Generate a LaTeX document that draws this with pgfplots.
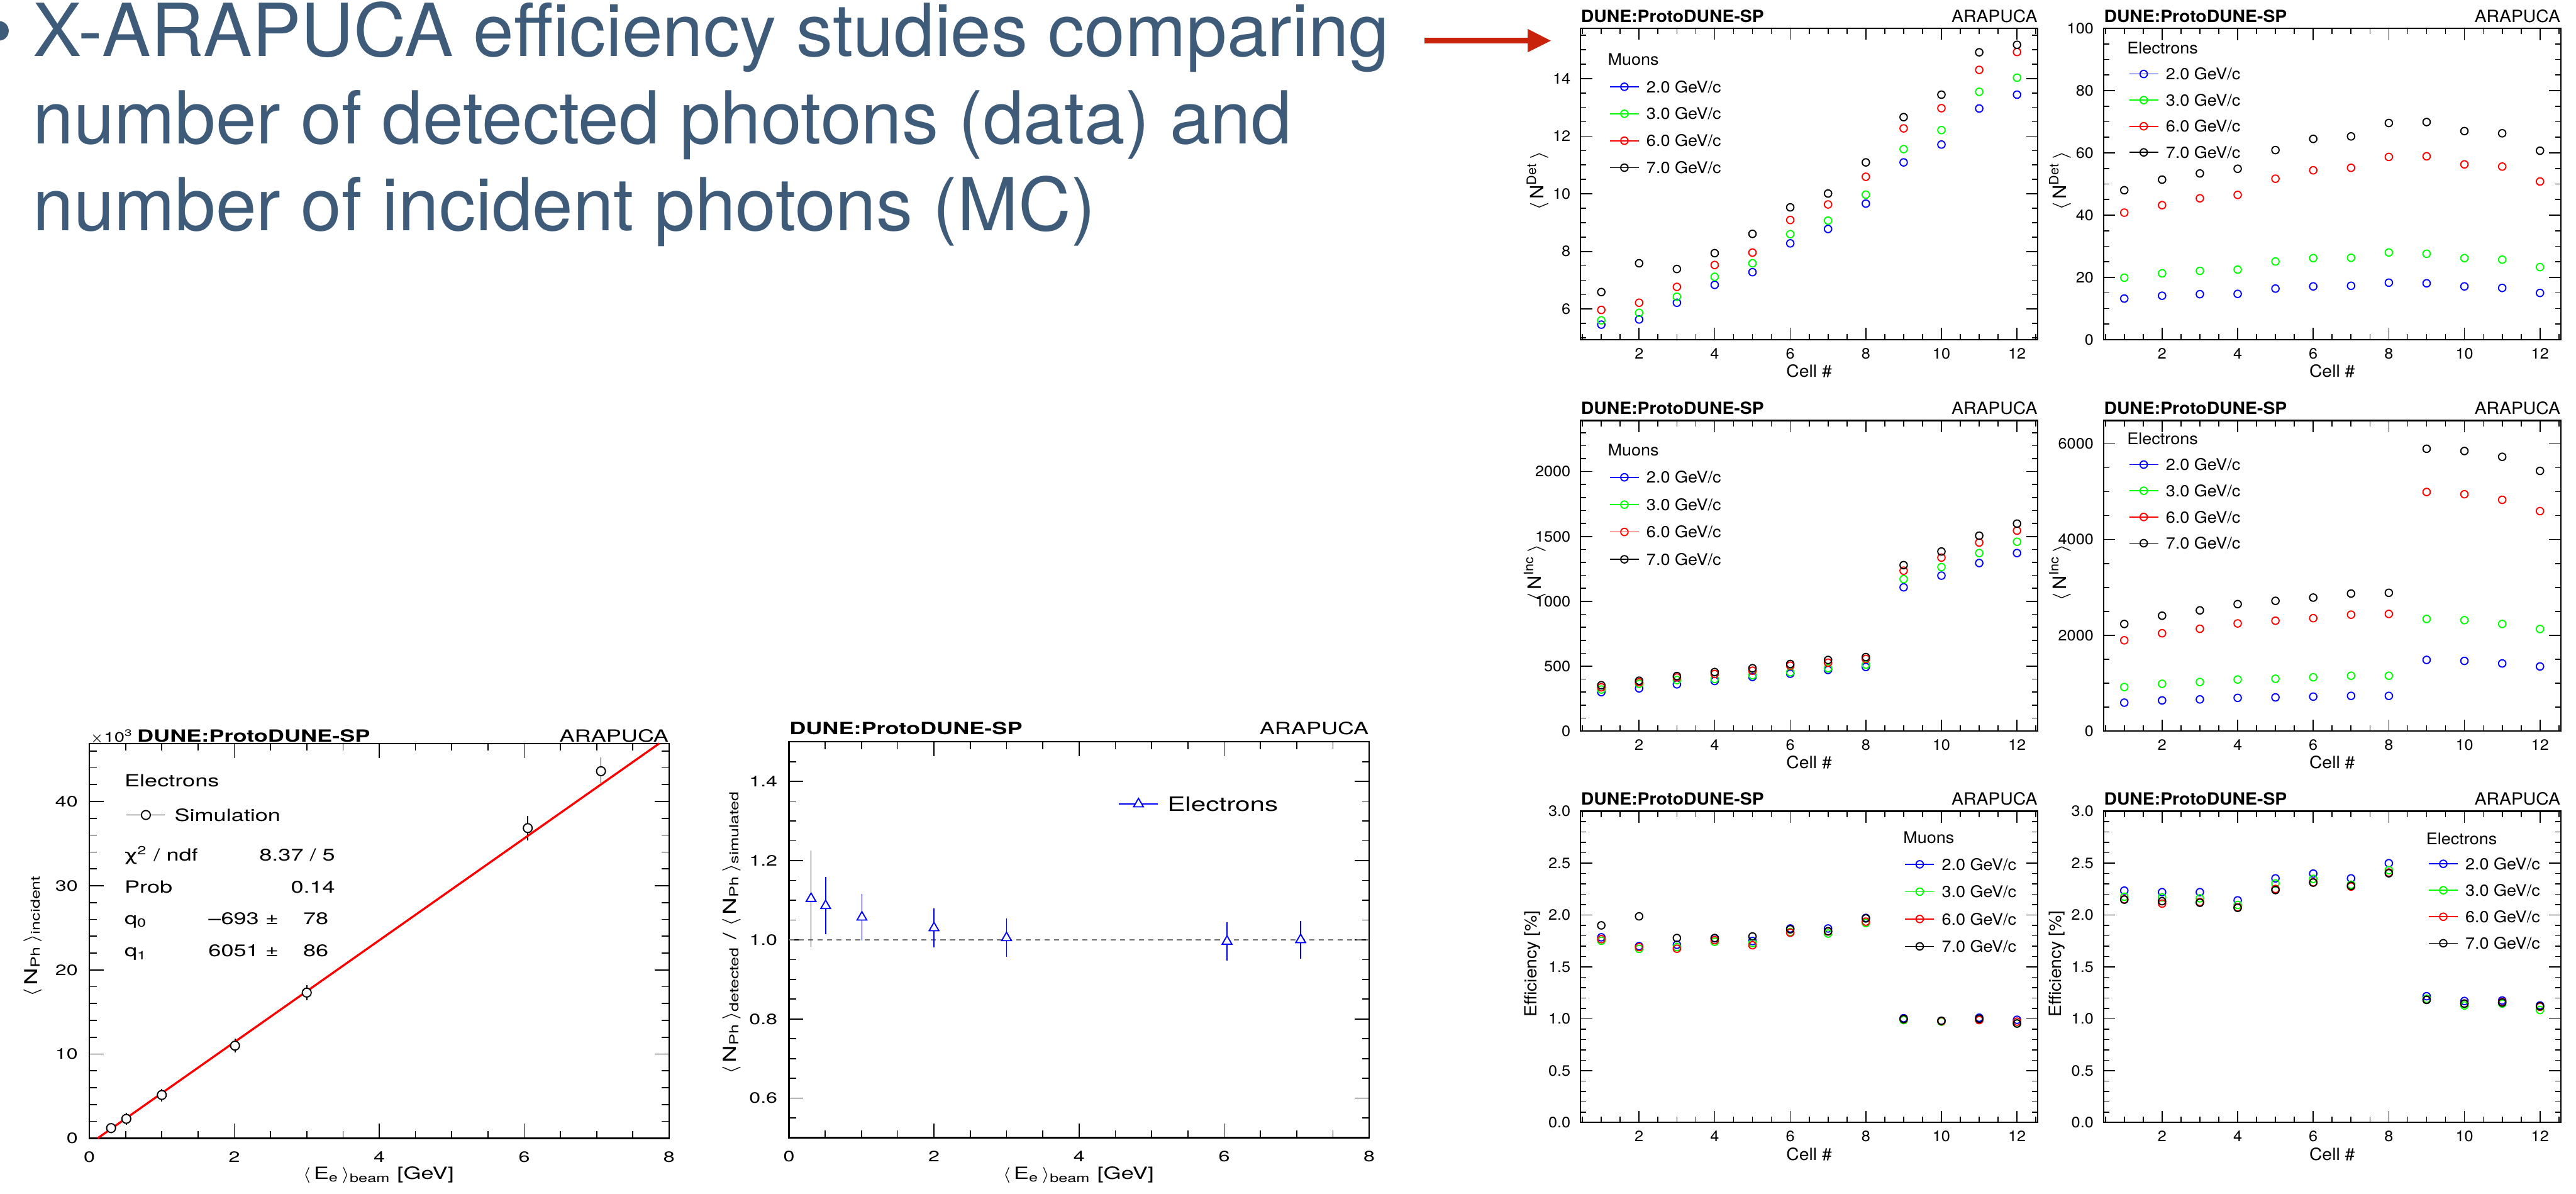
\documentclass[border=0pt]{standalone}
\usepackage{pgfplots}
\usepackage{pgfplotstable}
\pgfplotsset{compat=1.18}
\usepackage{fontspec}
\setmainfont{TeX Gyre Heros}
\newfontfamily\fR[FakeStretch=1.06]{TeX Gyre Heros}
\newfontfamily\fB[FakeStretch=1.35]{TeX Gyre Heros}
\newfontfamily\fG[FakeStretch=1.35]{DejaVu Sans}
\newcommand\RT{\fR\fontsize{6.4bp}{7bp}\selectfont}
\newcommand\RY{\fR\fontsize{7.0bp}{8bp}\selectfont}
\newcommand\RL{\fR\fontsize{6.1bp}{7bp}\selectfont}
\newcommand\RK{\fR\fontsize{5.7bp}{6bp}\selectfont}
\newcommand\BT{\fB\fontsize{6.4bp}{7bp}\selectfont}
\newcommand\BY{\fB\fontsize{6.8bp}{8bp}\selectfont}
\newcommand\BK{\fB\fontsize{5.7bp}{6bp}\selectfont}
\newcommand\BL{\fB\fontsize{7.5bp}{8bp}\selectfont}
\definecolor{slide}{RGB}{62,92,122}
\definecolor{arrowred}{RGB}{200,35,10}
\definecolor{rblue}{RGB}{0,0,255}
\definecolor{rgreen}{RGB}{0,255,0}
\definecolor{rred}{RGB}{255,0,0}
\definecolor{dashgray}{RGB}{110,110,110}

% Muons, detected photons per cell
\pgfplotstableread{
cell b g r k
1 5.46 5.61 5.97 6.59
2 5.64 5.87 6.22 7.59
3 6.22 6.43 6.77 7.39
4 6.84 7.12 7.53 7.94
5 7.28 7.59 7.96 8.61
6 8.28 8.60 9.09 9.53
7 8.78 9.07 9.63 10.01
8 9.66 9.97 10.59 11.09
9 11.09 11.55 12.27 12.66
10 11.71 12.21 12.97 13.44
11 12.96 13.54 14.30 14.91
12 13.44 14.03 14.92 15.17
}\muDet
% Electrons, detected photons per cell
\pgfplotstableread{
cell b g r k
1 13.2 19.9 40.8 48.0
2 14.1 21.3 43.2 51.4
3 14.6 22.1 45.4 53.4
4 14.7 22.5 46.5 54.9
5 16.4 25.1 51.7 60.9
6 17.1 26.2 54.4 64.5
7 17.3 26.3 55.2 65.3
8 18.3 28.0 58.7 69.6
9 18.1 27.6 58.9 69.9
10 17.1 26.2 56.3 67.0
11 16.6 25.7 55.6 66.3
12 15.0 23.3 50.8 60.7
}\elDet
% Muons, incident photons per cell
\pgfplotstableread{
cell b g r k
1 300 320 337 353
2 329 364 376 388
3 360 393 413 424
4 386 401 440 455
5 417 430 465 484
6 442 453 504 517
7 471 484 527 548
8 494 512 556 570
9 1108 1171 1236 1279
10 1198 1264 1337 1384
11 1295 1372 1453 1506
12 1372 1459 1545 1599
}\muInc
% Electrons, incident photons per cell
\pgfplotstableread{
cell b g r k
1 593 919 1895 2236
2 640 987 2042 2409
3 661 1024 2136 2520
4 693 1076 2247 2651
5 703 1092 2304 2719
6 719 1123 2357 2787
7 735 1155 2430 2871
8 735 1155 2446 2887
9 1486 2341 4992 5895
10 1465 2315 4945 5848
11 1412 2236 4829 5727
12 1349 2131 4593 5433
}\elInc
% Muons, efficiency per cell
\pgfplotstableread{
cell b g r k
1 1.785 1.752 1.767 1.900
2 1.700 1.673 1.690 1.987
3 1.713 1.690 1.675 1.778
4 1.775 1.742 1.757 1.778
5 1.749 1.729 1.708 1.793
6 1.870 1.836 1.829 1.862
7 1.870 1.821 1.841 1.844
8 1.972 1.923 1.936 1.967
9 1.005 0.987 0.997 0.997
10 0.980 0.972 0.977 0.980
11 1.010 0.995 0.987 1.000
12 0.990 0.954 0.972 0.954
}\muEff
% Electrons, efficiency per cell
\pgfplotstableread{
cell b g r k
1 2.235 2.176 2.151 2.148
2 2.220 2.169 2.110 2.133
3 2.220 2.161 2.125 2.118
4 2.141 2.097 2.074 2.069
5 2.353 2.304 2.251 2.240
6 2.399 2.348 2.315 2.312
7 2.353 2.292 2.274 2.281
8 2.499 2.432 2.409 2.402
9 1.217 1.192 1.182 1.182
10 1.171 1.128 1.146 1.146
11 1.176 1.146 1.161 1.156
12 1.128 1.084 1.115 1.120
}\elEff
% Simulation: incident photons (x10^3) vs beam energy
\pgfplotstableread{
x y ey
0.30 1.21 0.15
0.51 2.31 0.20
1.00 5.14 0.25
2.01 11.00 0.30
3.00 17.30 0.40
6.05 36.84 0.97
7.06 43.60 1.15
}\simInc
% Ratio detected / simulated
\pgfplotstableread{
x y ey
0.305 1.104 0.110
0.506 1.086 0.061
1.006 1.057 0.048
2.000 1.030 0.038
3.000 1.005 0.037
6.040 0.996 0.037
7.055 1.000 0.037
}\ratio

\pgfplotsset{
  legimg/.style={legend image code/.code={\draw[mark repeat=2,mark phase=2,##1,sharp plot] plot coordinates {(0bp,0bp) (#1/2,0bp) (#1,0bp)};}},
  rootbase/.style={scale only axis, clip=false,
    axis line style={line width=0.55bp},
    tick style={black, line width=0.4bp},
    tick align=inside, scaled ticks=false,
    /pgf/number format/assume math mode=true,
    /pgf/number format/1000 sep={},
    legend cell align=left},
  rpanel/.style={rootbase, width=174bp,
    xmin=0.45, xmax=12.55, xtick={2,4,...,12}, minor xtick={0.5,1,...,12.5},
    major tick length=4.4bp, minor tick length=2.2bp,
    ticklabel style={font=\RK, inner sep=0pt},
    xticklabel style={anchor=north, yshift=-3.1bp},
    yticklabel style={anchor=east, xshift=-3.6bp},
    xlabel={Cell \#},
    xlabel style={at={(axis description cs:0.5,-0.101)}, anchor=center, inner sep=0pt, font=\RT},
    ylabel style={anchor=center, inner sep=0pt, font=\RT},
    legend style={draw=none, fill=none, inner sep=0pt, outer sep=0pt, anchor=north west,
      nodes={inner sep=0pt, text height=4.4bp, text depth=0pt, font=\RL}, column sep=2.7bp},
    legimg=11bp},
  bpanel/.style={rootbase, xmin=0, xmax=8, xtick={0,2,...,8}, minor xtick={0.5,1,...,7.5},
    major tick length=5.5bp, minor tick length=2.75bp,
    ticklabel style={font=\BK, inner sep=0pt},
    xticklabel style={anchor=north, yshift=-4.8bp},
    yticklabel style={anchor=east, xshift=-4.2bp},
    xlabel={$\langle$\,E\textsubscript{e}\,$\rangle$\textsubscript{beam} [GeV]},
    xlabel style={anchor=center, inner sep=0pt, font=\BT},
    ylabel style={anchor=center, inner sep=0pt, font=\BY},
    legend style={draw=none, fill=none, inner sep=0pt, outer sep=0pt, anchor=north west}},
  ser/.style={only marks, mark=o, mark size=1.4bp, mark options={line width=0.45bp}, #1},
}
\newcommand\rtitles{%
  \node[anchor=base west, inner sep=0pt, font=\RT\bfseries, yshift=2.4bp] at (axis description cs:0,1) {DUNE:ProtoDUNE-SP};
  \node[anchor=base east, inner sep=0pt, font=\RT, yshift=2.4bp] at (axis description cs:1,1) {ARAPUCA};}
\newcommand\fourseries[1]{%
  \addplot[ser=rblue] table[x=cell,y=b] {#1}; \addlegendentry{2.0 GeV/c}
  \addplot[ser=rgreen] table[x=cell,y=g] {#1}; \addlegendentry{3.0 GeV/c}
  \addplot[ser=rred] table[x=cell,y=r] {#1}; \addlegendentry{6.0 GeV/c}
  \addplot[ser=black] table[x=cell,y=k] {#1}; \addlegendentry{7.0 GeV/c}}

\begin{document}
\begin{tikzpicture}
\path[use as bounding box] (0,0) rectangle (980.2bp,454.2bp);

% slide text
\fill[slide] (-0.4bp,442.46bp) circle (3.73bp);
\begin{scope}[every node/.style={anchor=base west, inner sep=0pt, text=slide, font=\fontsize{27.8bp}{33bp}\selectfont}]
\node at (12.4bp,432.8bp) {X-ARAPUCA efficiency studies comparing};
\node at (12.4bp,399.6bp) {number of detected photons (data) and};
\node at (12.4bp,366.6bp) {number of incident photons (MC)};
\end{scope}
% arrow
\fill[arrowred] (542bp,437.7bp) rectangle (581.6bp,439.9bp);
\fill[arrowred] (581.3bp,443.2bp) -- (590.1bp,438.7bp) -- (581.3bp,434.3bp) -- cycle;

% ---------- R1: muons detected
\begin{axis}[rpanel, at={(601.4bp,325bp)}, anchor=south west, height=118.4bp,
  ymin=4.94, ymax=15.74, ytick={6,8,...,14}, minor ytick={5,5.5,...,15.5},
  ylabel={$\langle$\,N\textsuperscript{Det}\,$\rangle$},
  ylabel style={at={(axis description cs:-0.094,0.51)}, font=\RY},
  legend style={at={(axis description cs:0.0632,0.831)}, row sep=5.86bp}]
\fourseries{\muDet}
\node[anchor=west, inner sep=0pt, text height=4.4bp, text depth=0pt, font=\RL] at (axis description cs:0.0586,0.900) {Muons};
\rtitles
\end{axis}

% ---------- R2: electrons detected
\begin{axis}[rpanel, at={(800.4bp,325bp)}, anchor=south west, height=118.4bp,
  ymin=0, ymax=100, ytick={0,20,...,100}, minor ytick={5,10,...,95},
  ylabel={$\langle$\,N\textsuperscript{Det}\,$\rangle$},
  ylabel style={at={(axis description cs:-0.095,0.51)}, font=\RY},
  legend style={at={(axis description cs:0.0552,0.872)}, row sep=5.54bp}]
\fourseries{\elDet}
\node[anchor=west, inner sep=0pt, text height=4.4bp, text depth=0pt, font=\RL] at (axis description cs:0.0506,0.936) {Electrons};
\rtitles
\end{axis}

% ---------- R3: muons incident
\begin{axis}[rpanel, at={(601.4bp,176.1bp)}, anchor=south west, height=118.1bp,
  ymin=0, ymax=2393, ytick={0,500,...,2000}, minor ytick={100,200,...,2300},
  ylabel={$\langle$\,N\textsuperscript{Inc}\,$\rangle$},
  ylabel style={at={(axis description cs:-0.1,0.51)}, font=\RY},
  legend style={at={(axis description cs:0.0632,0.836)}, row sep=6.0bp}]
\fourseries{\muInc}
\node[anchor=west, inner sep=0pt, text height=4.4bp, text depth=0pt, font=\RL] at (axis description cs:0.0586,0.905) {Muons};
\rtitles
\end{axis}

% ---------- R4: electrons incident
\begin{axis}[rpanel, at={(800.4bp,176.1bp)}, anchor=south west, height=118.1bp,
  ymin=0, ymax=6483, ytick={0,2000,...,6000}, minor ytick={500,1000,...,6000},
  ylabel={$\langle$\,N\textsuperscript{Inc}\,$\rangle$},
  ylabel style={at={(axis description cs:-0.095,0.51)}, font=\RY},
  legend style={at={(axis description cs:0.0552,0.877)}, row sep=5.57bp}]
\fourseries{\elInc}
\node[anchor=west, inner sep=0pt, text height=4.4bp, text depth=0pt, font=\RL] at (axis description cs:0.0506,0.942) {Electrons};
\rtitles
\end{axis}

% ---------- R5: muons efficiency
\begin{axis}[rpanel, at={(601.4bp,27.2bp)}, anchor=south west, height=118.4bp,
  ymin=0, ymax=3, ytick={0,0.5,...,3}, minor ytick={0.1,0.2,...,2.9},
  yticklabel style={/pgf/number format/.cd, fixed, fixed zerofill, precision=1},
  ylabel={Efficiency [\%]},
  ylabel style={at={(axis description cs:-0.105,0.51)}},
  legend style={at={(axis description cs:0.709,0.848)}, row sep=6.0bp}]
\fourseries{\muEff}
\node[anchor=west, inner sep=0pt, text height=4.4bp, text depth=0pt, font=\RL] at (axis description cs:0.7046,0.9155) {Muons};
\rtitles
\end{axis}

% ---------- R6: electrons efficiency
\begin{axis}[rpanel, at={(800.4bp,27.2bp)}, anchor=south west, height=118.4bp,
  ymin=0, ymax=3, ytick={0,0.5,...,3}, minor ytick={0.1,0.2,...,2.9},
  yticklabel style={/pgf/number format/.cd, fixed, fixed zerofill, precision=1},
  ylabel={Efficiency [\%]},
  ylabel style={at={(axis description cs:-0.102,0.51)}},
  legend style={at={(axis description cs:0.7103,0.8497)}, row sep=5.67bp}]
\fourseries{\elEff}
\node[anchor=west, inner sep=0pt, text height=4.4bp, text depth=0pt, font=\RL] at (axis description cs:0.7046,0.912) {Electrons};
\rtitles
\end{axis}

% ---------- P1: incident photons vs energy
\begin{axis}[bpanel, at={(34bp,21.2bp)}, anchor=south west, width=220.6bp, height=150.2bp,
  ymin=0, ymax=46.9, ytick={0,10,...,40}, minor ytick={2,4,...,46},
  ylabel={$\langle$\,N\textsubscript{Ph}\,$\rangle$\textsubscript{incident}},
  ylabel style={at={(axis description cs:-0.098,0.513)}},
  xlabel style={at={(axis description cs:0.4986,-0.093)}},
  legend style={at={(axis description cs:0.0635,0.834)}, column sep=3.4bp,
    nodes={inner sep=0pt, text height=4.6bp, text depth=0pt, font=\BT}},
  legimg=14.6bp]
\addplot[black, line width=0.4bp, only marks, mark=*, mark size=1.7bp,
  mark options={fill=white, draw=black, line width=0.45bp},
  error bars/y dir=both, error bars/y explicit,
  error bars/error mark=-,
  error bars/error bar style={line width=0.4bp},
  error bars/error mark options={mark size=1.6bp, line width=0.4bp}]
  table[x=x, y=y, y error=ey] {\simInc};
\addlegendentry{Simulation}
\addplot[rred, line width=0.8bp, forget plot] coordinates {(0.1145,0) (7.865,46.9)};
\node[anchor=base west, inner sep=0pt, font=\fB\fontsize{5.2bp}{6bp}\selectfont, yshift=0.6bp] at (axis description cs:0,1) {$\times$10\textsuperscript{3}};
\node[anchor=base west, inner sep=0pt, font=\BT\bfseries, yshift=0.6bp] at (axis description cs:0.0816,1) {DUNE:ProtoDUNE-SP};
\node[anchor=base east, inner sep=0pt, font=\BT, yshift=0.6bp] at (axis description cs:1,1) {ARAPUCA};
\begin{scope}[every node/.style={inner sep=0pt, font=\BT}]
\node[anchor=base west] at (axis cs:0.479,41.79) {Electrons};
\node[anchor=base west] at (axis cs:0.479,32.92) {{\fG\fontsize{6.2bp}{7bp}\selectfont χ}\textsuperscript{2} / ndf};
\node[anchor=base east] at (axis cs:3.398,32.92) {8.37 / 5};
\node[anchor=base west] at (axis cs:0.479,29.17) {Prob};
\node[anchor=base east] at (axis cs:3.398,29.17) {0.14};
\node[anchor=base west] at (axis cs:0.479,25.42) {q\textsubscript{0}};
\node[anchor=base east] at (axis cs:2.618,25.42) {\textendash693 ±};
\node[anchor=base east] at (axis cs:3.307,25.42) {78};
\node[anchor=base west] at (axis cs:0.479,21.55) {q\textsubscript{1}};
\node[anchor=base east] at (axis cs:2.618,21.55) {6051 ±};
\node[anchor=base east] at (axis cs:3.307,21.55) {86};
\end{scope}
\end{axis}

% ---------- P2: ratio detected / simulated
\begin{axis}[bpanel, at={(300.2bp,21.4bp)}, anchor=south west, width=220.8bp, height=150.6bp,
  ymin=0.5, ymax=1.5, ytick={0.6,0.8,...,1.4}, minor ytick={0.55,0.6,...,1.45},
  yticklabel style={/pgf/number format/.cd, fixed, fixed zerofill, precision=1},
  ylabel={$\langle$\,N\textsubscript{Ph}\,$\rangle$\textsubscript{detected} / $\langle$\,N\textsubscript{Ph}\,$\rangle$\textsubscript{simulated}},
  ylabel style={at={(axis description cs:-0.099,0.519)}},
  xlabel style={at={(axis description cs:0.499,-0.094)}},
  legend style={at={(axis description cs:0.568,0.861)}, column sep=3.4bp,
    nodes={inner sep=0pt, text height=5.4bp, text depth=0pt, font=\BL}},
  legimg=14.8bp]
\addplot[dashgray, line width=0.4bp, dash pattern=on 2bp off 1.6bp, forget plot] coordinates {(0,1) (8,1)};
\addplot[rblue, line width=0.4bp, only marks, mark=triangle*, mark size=2.13bp,
  mark options={fill=white, draw=rblue, line width=0.45bp},
  error bars/y dir=both, error bars/y explicit,
  error bars/error mark=-,
  error bars/error bar style={line width=0.4bp},
  error bars/error mark options={mark size=1.7bp, line width=0.4bp}]
  table[x=x, y=y, y error=ey] {\ratio};
\addlegendentry{Electrons}
\node[anchor=base west, inner sep=0pt, font=\BT\bfseries, yshift=2.7bp] at (axis description cs:0,1) {DUNE:ProtoDUNE-SP};
\node[anchor=base east, inner sep=0pt, font=\BT, yshift=2.7bp] at (axis description cs:1,1) {ARAPUCA};
\end{axis}
\end{tikzpicture}
\end{document}
